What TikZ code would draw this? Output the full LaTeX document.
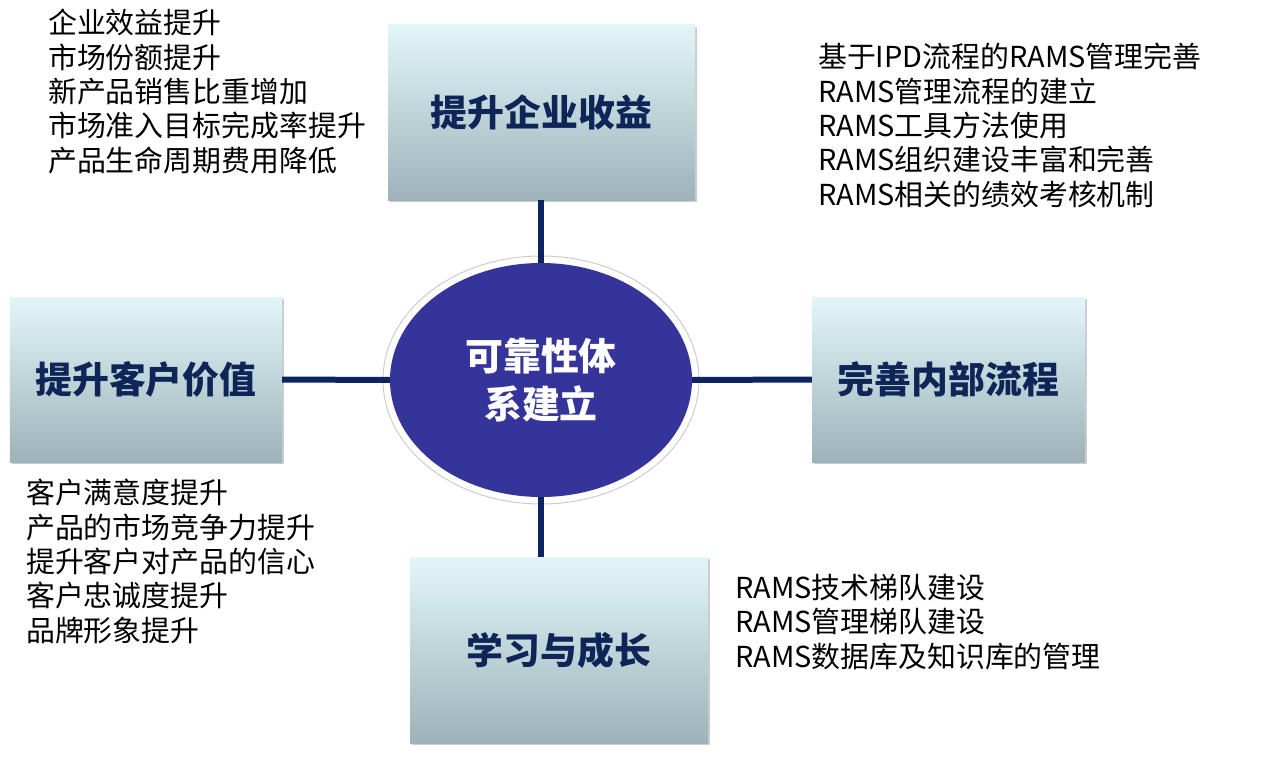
\documentclass[tikz,border=0pt]{standalone}
\usepackage{fontspec}
\setmainfont{Noto Sans CJK SC}
\usetikzlibrary{shadows,shapes.geometric}
\definecolor{boxtop}{HTML}{E2F6FA}
\definecolor{boxbot}{HTML}{9DB3B9}
\definecolor{navy}{HTML}{0E2557}
\definecolor{ell}{HTML}{34349A}
\definecolor{conn}{HTML}{0C2461}
\tikzset{
  box/.style={draw=none, top color=boxtop, bottom color=boxbot, drop shadow={shadow xshift=2bp,shadow yshift=-2bp,opacity=0.4},
    font=\fontsize{37}{40}\selectfont\bfseries, text=navy, inner sep=0pt},
  lst/.style={anchor=north west, align=left, font=\fontsize{29}{34.5}\selectfont, inner sep=0pt},
  conn/.style={draw=conn, line width=6bp}
}
\begin{document}
\begin{tikzpicture}[x=1bp,y=-1bp]
\useasboundingbox (0,0) rectangle (1287,761);
\node[box, minimum width=307bp, minimum height=175bp] (top) at (541.5,112.5) {提升企业收益};
\node[box, minimum width=272bp, minimum height=165bp] (left) at (146,379.5) {提升客户价值};
\node[box, minimum width=273bp, minimum height=165bp] (right) at (948.5,379.5) {完善内部流程};
\node[box, minimum width=298bp, minimum height=186bp] (bot) at (559,650) {学习与成长};
\node[ellipse, draw=gray!40, line width=1bp, fill=white, minimum width=316bp, minimum height=248bp] (outer) at (541,380) {};
\node[ellipse, fill=ell, minimum width=302bp, minimum height=234bp, text=white, align=center,
  font=\fontsize{38}{48}\selectfont\bfseries] (c) at (541,380) {可靠性体\\系建立};
\draw[conn] (top.south -| c) -- (c.north);
\draw[conn] (left.east) -- (c.west);
\draw[conn] (right.west) -- (c.east);
\draw[conn] (bot.north -| c) -- (c.south);
\node[lst] (l1) at (48,9) {企业效益提升\\市场份额提升\\新产品销售比重增加\\市场准入目标完成率提升\\产品生命周期费用降低};
\node[lst] (l2) at (818,43) {基于IPD流程的RAMS管理完善\\RAMS管理流程的建立\\RAMS工具方法使用\\RAMS组织建设丰富和完善\\RAMS相关的绩效考核机制};
\node[lst] (l3) at (26,479) {客户满意度提升\\产品的市场竞争力提升\\提升客户对产品的信心\\客户忠诚度提升\\品牌形象提升};
\node[lst] (l4) at (735,574) {RAMS技术梯队建设\\RAMS管理梯队建设\\RAMS数据库及知识库的管理};
\end{tikzpicture}
\end{document}
